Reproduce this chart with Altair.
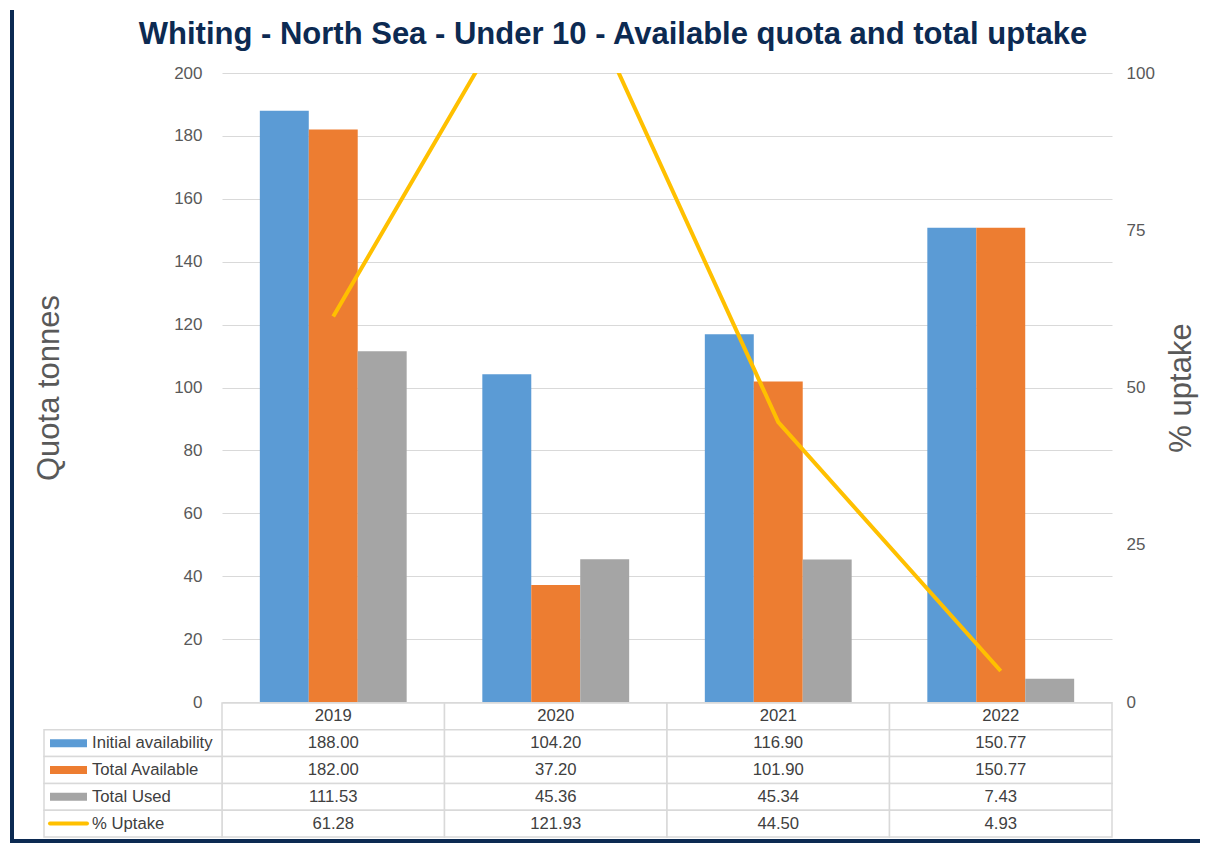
import altair as alt
import pandas as pd

# ---- data ----
years = ["2019", "2020", "2021", "2022"]
series = ["Initial availability", "Total Available", "Total Used", "% Uptake"]
initial_availability = [188.00, 104.20, 116.90, 150.77]
total_available = [182.00, 37.20, 101.90, 150.77]
total_used = [111.53, 45.36, 45.34, 7.43]
pct_uptake = [61.28, 121.93, 44.50, 4.93]
colors = ["#5b9bd5", "#ed7d31", "#a5a5a5", "#ffc000"]
left_ticks = [0, 20, 40, 60, 80, 100, 120, 140, 160, 180, 200]
right_ticks = [0, 25, 50, 75, 100]
TITLE = "Whiting - North Sea - Under 10 - Available quota and total uptake"

FONT = "Liberation Sans"
NAVY = "#0c2a52"
GRID = "#d9d9d9"
AXIS_TXT = "#595959"
TABLE_TXT = "#404040"

bar_values = [initial_availability, total_available, total_used]
bars_df = pd.DataFrame(
    [{"year": y, "series": s, "value": vals[i]}
     for s, vals in zip(series[:3], bar_values)
     for i, y in enumerate(years)]
)
line_df = pd.DataFrame({"year": years, "uptake": pct_uptake})

all_values = bar_values + [pct_uptake]
table_rows = ["header"] + series
table_df = pd.DataFrame(
    [{"row": "header", "year": y, "label": y} for y in years]
    + [{"row": s, "year": y, "label": f"{vals[i]:.2f}"}
       for s, vals in zip(series, all_values)
       for i, y in enumerate(years)]
)
legend_df = pd.DataFrame({"row": series, "kind": ["bar", "bar", "bar", "line"]})
one = pd.DataFrame({"t": [TITLE]})

color_scale = alt.Scale(domain=series, range=colors)

# ---- top chart ----
x_top = alt.X("year:N", sort=years,
              scale=alt.Scale(type="band", domain=years, paddingInner=0.34, paddingOuter=0.17),
              axis=None)

bars = alt.Chart(bars_df).mark_bar().encode(
    x=x_top,
    xOffset=alt.XOffset("series:N", sort=series[:3],
                        scale=alt.Scale(domain=series[:3], paddingInner=0, paddingOuter=0)),
    y=alt.Y("value:Q", scale=alt.Scale(domain=[0, 200], nice=False),
            axis=alt.Axis(values=left_ticks, title="Quota tonnes", grid=True, gridColor=GRID,
                          domain=False, ticks=False, labelPadding=20, titlePadding=108,
                          labelFontSize=17, labelColor=AXIS_TXT, labelFont=FONT,
                          titleFontSize=31, titleFontWeight="normal", titleColor=AXIS_TXT,
                          titleFont=FONT)),
    color=alt.Color("series:N", scale=color_scale, legend=None),
)

line = alt.Chart(line_df).mark_line(clip=True, strokeWidth=4, color="#ffc000").encode(
    x=x_top,
    y=alt.Y("uptake:Q", scale=alt.Scale(domain=[0, 100], nice=False),
            axis=alt.Axis(orient="right", values=right_ticks, title="% uptake", grid=False,
                          domain=False, ticks=False, labelPadding=14, titlePadding=12,
                          titleAngle=270, titleBaseline="top",
                          labelFontSize=17, labelColor=AXIS_TXT, labelFont=FONT,
                          titleFontSize=31, titleFontWeight="normal", titleColor=AXIS_TXT,
                          titleFont=FONT)),
)

title_mark = alt.Chart(one).mark_text(
    fontSize=31, fontWeight="bold", color=NAVY, font=FONT, align="center", baseline="middle"
).encode(x=alt.value(391), y=alt.value(-38), text="t:N")

left_border = alt.Chart(one).mark_rule(color=NAVY, strokeWidth=4).encode(
    x=alt.value(-210), y=alt.value(-63), y2=alt.value(770))
bottom_border = alt.Chart(one).mark_rule(color=NAVY, strokeWidth=4).encode(
    x=alt.value(-212), x2=alt.value(978), y=alt.value(768))

top = alt.layer(bars, line, title_mark, left_border, bottom_border).resolve_scale(
    y="independent").properties(width=890, height=629)

# ---- bottom data table ----
x_tab = alt.X("year:N", sort=years,
              scale=alt.Scale(type="band", domain=years, paddingInner=0, paddingOuter=0),
              axis=None)
y_tab = alt.Y("row:N", sort=table_rows,
              scale=alt.Scale(type="band", domain=table_rows, paddingInner=0, paddingOuter=0),
              axis=None)

cells = alt.Chart(table_df).mark_rect(fill="white", stroke=GRID, strokeWidth=1.5).encode(
    x=x_tab, y=y_tab)
label_cells = alt.Chart(legend_df).mark_rect(fill="white", stroke=GRID, strokeWidth=1.5).encode(
    x=alt.value(-178), x2=alt.value(0), y=y_tab)
values_text = alt.Chart(table_df).mark_text(
    fontSize=16.7, font=FONT, color=TABLE_TXT, align="center", baseline="middle").encode(
    x=x_tab, y=y_tab, text="label:N")
label_text = alt.Chart(legend_df).mark_text(
    fontSize=16.7, font=FONT, color=TABLE_TXT, align="left", baseline="middle").encode(
    x=alt.value(-130), y=y_tab, text="row:N")
swatch_bar = alt.Chart(legend_df).transform_filter(alt.datum.kind == "bar").mark_rule(
    strokeWidth=8).encode(
    x=alt.value(-172), x2=alt.value(-135), y=y_tab,
    color=alt.Color("row:N", scale=color_scale, legend=None))
swatch_line = alt.Chart(legend_df).transform_filter(alt.datum.kind == "line").mark_rule(
    strokeWidth=4, strokeCap="round").encode(
    x=alt.value(-172), x2=alt.value(-135), y=y_tab,
    color=alt.Color("row:N", scale=color_scale, legend=None))

bottom = alt.layer(cells, label_cells, values_text, label_text, swatch_bar, swatch_line).properties(
    width=890, height=134)

chart = alt.vconcat(top, bottom, spacing=1, bounds="flush").properties(
    padding=0, background="white"
).configure_view(stroke=None)

chart.save("out.html", embed_options={"renderer": "svg", "actions": False})
